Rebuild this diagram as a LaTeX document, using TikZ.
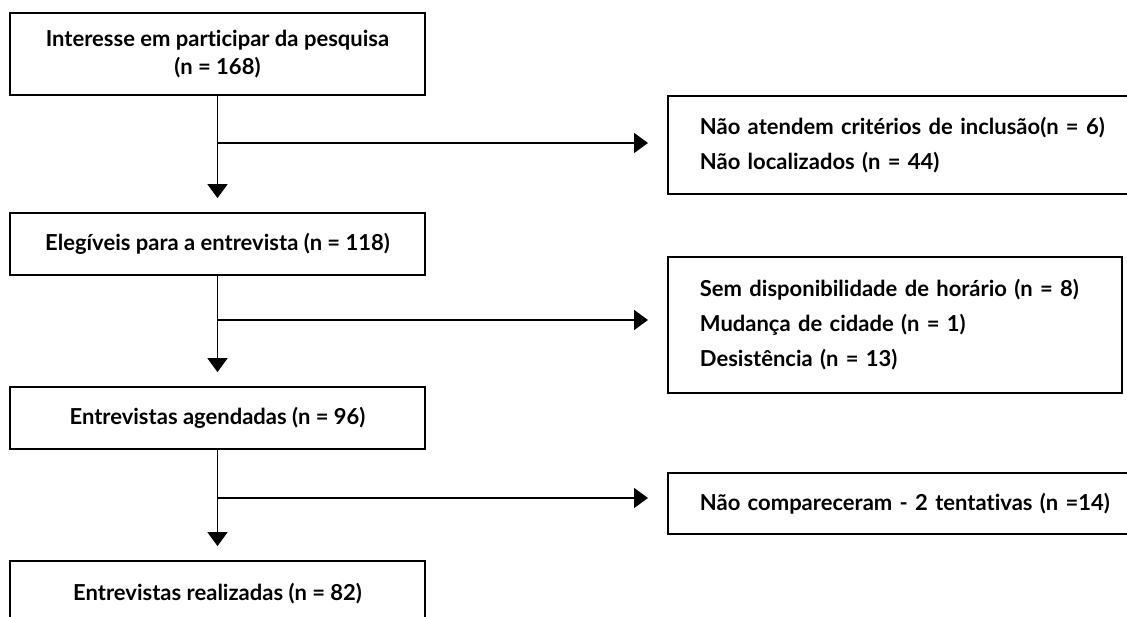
\documentclass[tikz,border=0pt]{standalone}
\usepackage{fontspec}
\setmainfont{Lato}[BoldFont={* Bold},Ligatures={NoCommon,NoRare}]
\usetikzlibrary{arrows.meta,calc}
\begin{document}
\begin{tikzpicture}[x=1pt,y=-1pt,
  box/.style={draw=black,line width=1.8pt,inner sep=0pt,font=\bfseries\fontsize{22}{28}\selectfont},
  lbox/.style={box,align=center,minimum width=415pt},
  rbox/.style={box,align=left,inner xsep=32pt,font=\bfseries\fontsize{22}{35}\selectfont},
  conn/.style={line width=1.8pt},
  arr/.style={conn,-{Triangle[width=20pt,length=14pt]}}]
\useasboundingbox (0,0) rectangle (1127,617);
\clip (0,0) rectangle (1127,617);
\node[lbox,minimum height=82pt] (L1) at (217.5,54) {Interesse em participar da pesquisa\\(n = 168)};
\node[lbox,minimum height=62pt] (L2) at (217.5,244) {Elegíveis para a entrevista (n = 118)};
\node[lbox,minimum height=62pt] (L3) at (217.5,418) {Entrevistas agendadas (n = 96)};
\node[lbox,minimum height=66pt] (L4) at (217.5,594) {Entrevistas realizadas (n = 82)};
\node[rbox,text width=460pt,minimum height=98pt,anchor=west] (R1) at (667,145) {Não atendem critérios de inclusão(n = 6)\\Não localizados (n = 44)};
\node[rbox,text width=390pt,minimum height=136pt,anchor=west] (R2) at (667,325) {Sem disponibilidade de horário (n = 8)\\Mudança de cidade (n = 1)\\Desistência (n = 13)};
\node[rbox,text width=460pt,minimum height=61pt,anchor=west] (R3) at (667,503.5) {Não compareceram - 2 tentativas (n =14)};
\coordinate (b1) at (217.5,143);
\coordinate (b2) at (217.5,320);
\coordinate (b3) at (217.5,498);
\draw[arr,shorten >=14pt] (L1.south) -- (L2.north);
\draw[arr,shorten >=14pt] (L2.south) -- (L3.north);
\draw[arr,shorten >=14pt] (L3.south) -- (L4.north);
\draw[arr,shorten >=19pt] (b1) -- (b1 -| R1.west);
\draw[arr,shorten >=19pt] (b2) -- (b2 -| R2.west);
\draw[arr,shorten >=19pt] (b3) -- (b3 -| R3.west);
\end{tikzpicture}
\end{document}
